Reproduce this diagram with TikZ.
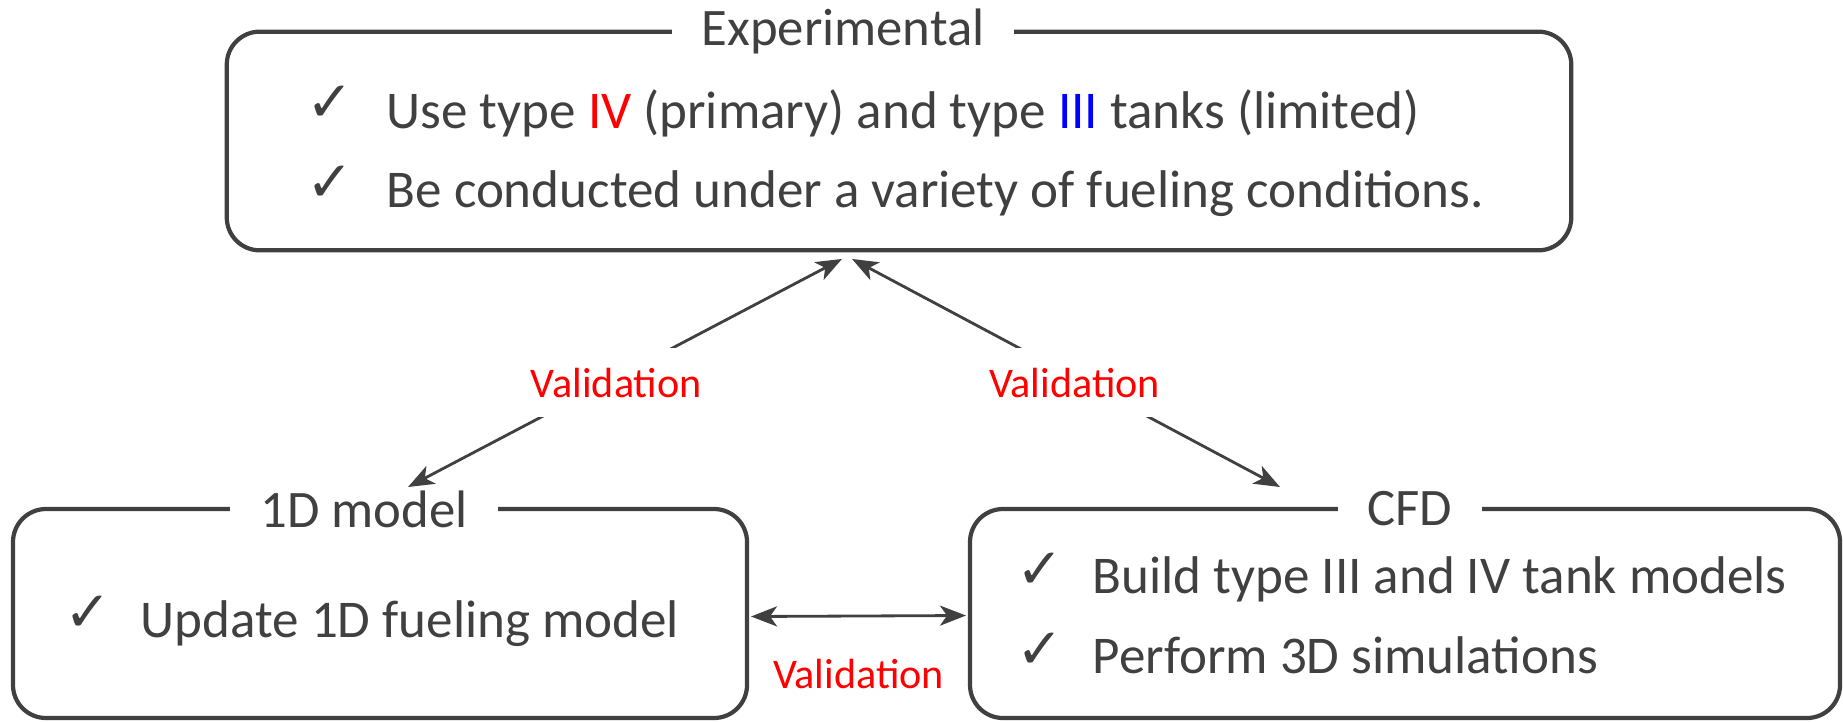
\documentclass[tikz,border=0pt]{standalone}
\usepackage{fontspec}
\setmainfont{Carlito}
\newfontfamily\ticksym{DejaVu Sans}
\usetikzlibrary{arrows.meta}
\definecolor{ink}{RGB}{64,64,64}
\definecolor{valred}{RGB}{255,0,0}
\definecolor{typeblue}{RGB}{0,0,255}
\tikzset{
  panel/.style={draw=ink, line width=1.2pt, rounded corners=0.33cm, outer sep=0pt},
  paneltitle/.style={fill=white, text=ink, inner xsep=0.3cm, inner ysep=0pt, font=\fontsize{15}{18}\selectfont},
  entry/.style={anchor=base west, inner sep=0pt, text=ink, font=\fontsize{15.1}{18}\selectfont},
  checkmk/.style={inner sep=0pt, text=ink, font=\ticksym\fontsize{16}{18}\selectfont},
  vlabel/.style={fill=white, text=valred, inner xsep=0.05cm, inner ysep=0.2cm, font=\fontsize{12}{14}\selectfont},
  link/.style={draw=ink, line width=0.8pt, {Stealth[length=0.26cm,width=0.2cm,inset=0.07cm]}-{Stealth[length=0.26cm,width=0.2cm,inset=0.07cm]}}
}
\begin{document}
\begin{tikzpicture}
        \useasboundingbox (0,0) rectangle (18.43,7.21);
        % Nodes
        \node (exp) [panel, minimum width=13.445cm, minimum height=2.187cm] at (8.99,5.80) {};
        \node (exptitle) [paneltitle] at (8.43,0 |- exp.north) {Experimental};
        \node (chk1) [checkmk] at (3.30,6.175) {✓};
        \node (usetype) [entry] at (3.86,5.93) {Use type \textcolor{valred}{IV} (primary) and type \textcolor{typeblue}{III} tanks (limited)};
        \node (chk2) [checkmk] at (3.30,5.375) {✓};
        \node (conduct) [entry] at (3.86,5.14) {Be conducted under a variety of fueling conditions.};

        \node (md1d) [panel, minimum width=7.34cm, minimum height=2.09cm] at (3.80,1.075) {};
        \node (md1dtitle) [paneltitle] at (3.64,0 |- md1d.north) {1D model};
        \node (chk3) [checkmk] at (0.88,1.07) {✓};
        \node (update) [entry] at (1.40,0.84) {Update 1D fueling model};

        \node (cfd) [panel, minimum width=8.70cm, minimum height=2.09cm] at (14.05,1.075) {};
        \node (cfdtitle) [paneltitle] at (14.10,0 |- cfd.north) {CFD};
        \node (chk4) [checkmk] at (10.40,1.50) {✓};
        \node (build) [entry] at (10.92,1.28) {Build type III and IV tank models};
        \node (chk5) [checkmk] at (10.40,0.70) {✓};
        \node (perform) [entry] at (10.92,0.48) {Perform 3D simulations};

        % Edges
        \draw[link] ([xshift=-0.57cm,yshift=-0.086cm]exp.south) -- node[vlabel, pos=.52, yshift=-0.05cm] (val1) {Validation} ([xshift=0.28cm,yshift=0.22cm]md1d.north);
        \draw[link] ([xshift=-0.47cm,yshift=-0.086cm]exp.south) -- node[vlabel, pos=.52, yshift=-0.05cm] (val2) {Validation} ([xshift=-1.25cm,yshift=0.22cm]cfd.north);
        \draw[link] ([xshift=0.04cm,yshift=-0.03cm]md1d.east) -- node[vlabel, below=0.215cm] (val3) {Validation} ([xshift=-0.04cm,yshift=-0.02cm]cfd.west);
\end{tikzpicture}
\end{document}
